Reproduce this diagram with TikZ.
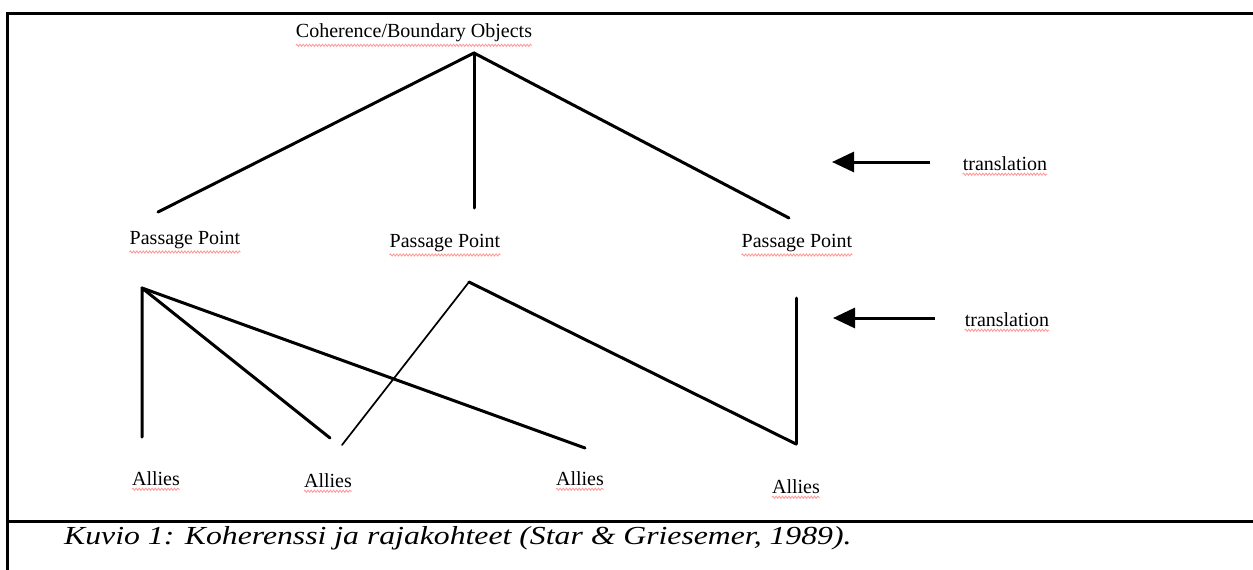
\documentclass[tikz,border=0pt]{standalone}
\usepackage{fontspec}
\setmainfont{Liberation Serif}
\usetikzlibrary{arrows.meta,decorations.pathmorphing}
\begin{document}
\begin{tikzpicture}[x=1pt,y=-1pt,
  lbl/.style={font=\fontsize{20}{24}\selectfont, inner sep=0pt},
  thick line/.style={line width=3pt, line cap=round, line join=round},
  thin line/.style={line width=1.7pt, line cap=round},
  frameline/.style={line width=3pt},
  transarrow/.style={line width=3pt, -{Triangle[length=22pt,width=20pt]}},
  squig/.style={red!75!white, opacity=0.55, line width=0.8pt,
    decorate, decoration={snake, amplitude=1.1pt, segment length=3.2pt}}]
\useasboundingbox (0,0) rectangle (1253,570);
\fill[white] (0,0) rectangle (1253,570);
% frame
\coordinate (ftl) at (7,13);
\coordinate (ftr) at (1253,13);
\coordinate (fbl) at (7,570);
\coordinate (fml) at (7,521);
\coordinate (fmr) at (1253,521);
\draw[frameline] (ftr) -- (ftl) -- (fbl);
\draw[frameline] (fml) -- (fmr);
% labels
\node[lbl] (cbo) at (414,33) {Coherence/Boundary Objects};
\node[lbl] (pp1) at (185,240) {Passage Point};
\node[lbl] (pp2) at (445,243) {Passage Point};
\node[lbl] (pp3) at (797,243) {Passage Point};
\node[lbl] (al1) at (156,479) {Allies};
\node[lbl] (al2) at (328,481) {Allies};
\node[lbl] (al3) at (580,479) {Allies};
\node[lbl] (al4) at (796,487) {Allies};
\node[lbl] (tr1) at (1005,164) {translation};
\node[lbl] (tr2) at (1007,320) {translation};
% squiggly underlines
\foreach \n in {cbo,pp1,pp2,pp3,al1,al2,al3,al4,tr1,tr2}{
  \draw[squig] ([yshift=-3pt]\n.south west) -- ([yshift=-3pt]\n.south east);
}
% upper tree
\coordinate (top) at (474,53);
\coordinate (u1) at (158,212);
\coordinate (u2) at (474,208);
\coordinate (u3) at (789,218);
\draw[thick line] (u1) -- (top) -- (u3);
\draw[thick line] (top) -- (u2);
% lower connectors
\coordinate (la) at (142,288);
\coordinate (lv) at (142,437);
\coordinate (l2) at (330,438);
\coordinate (l3) at (585,448);
\draw[thick line] (lv) -- (la) -- (l2);
\draw[thick line] (la) -- (l3);
\coordinate (ma) at (469,282);
\coordinate (m2) at (342,445);
\coordinate (m4) at (796,444);
\draw[thin line] (m2) -- (ma);
\draw[thick line] (ma) -- (m4);
\coordinate (rv) at (796,298);
\draw[thick line] (rv) -- (m4);
% translation arrows
\coordinate (a1s) at (930,162);
\coordinate (a1e) at (832,162);
\coordinate (a2s) at (935,318);
\coordinate (a2e) at (833,318);
\draw[transarrow] (a1s) -- (a1e);
\draw[transarrow] (a2s) -- (a2e);
% caption
\node[inner sep=0pt, anchor=west] (cap) at (64,538)
  {\scalebox{1.22}[1]{\fontsize{26}{30}\selectfont\itshape Kuvio 1: Koherenssi ja rajakohteet (Star \& Griesemer, 1989).}};
\end{tikzpicture}
\end{document}
